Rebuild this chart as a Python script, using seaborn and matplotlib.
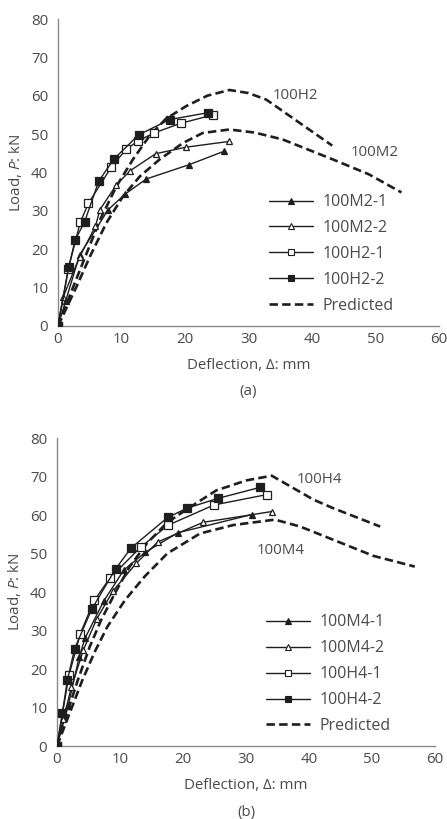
import pandas as pd
import matplotlib
matplotlib.use("Agg")
import matplotlib.pyplot as plt
import seaborn as sns
from matplotlib.lines import Line2D

# --- Panel (a): load-deflection data, 2% series ---
m2_1_x = [0, 1.2, 3.4, 7.9, 10.6, 13.9, 20.6, 26.1]
m2_1_y = [0, 6.5, 18.5, 30.3, 34.4, 38.3, 42.0, 45.5]
m2_2_x = [0, 0.8, 3.4, 5.9, 6.6, 9.2, 11.4, 15.4, 20.2, 27.0]
m2_2_y = [0, 7.5, 18.0, 26.0, 30.3, 36.8, 40.5, 44.9, 46.6, 48.1]
h2_1_x = [0, 1.6, 3.5, 4.8, 8.4, 10.7, 12.6, 15.1, 19.3, 24.4]
h2_1_y = [0, 14.8, 27.0, 32.0, 41.4, 46.0, 48.2, 50.3, 52.8, 55.0]
h2_2_x = [0, 1.7, 2.7, 4.2, 6.4, 8.8, 12.7, 17.6, 23.7]
h2_2_y = [0, 15.4, 22.4, 27.2, 37.7, 43.5, 49.8, 53.8, 55.6]
pred_h2_x = [0, 2.4, 4.5, 6.6, 9.2, 11.8, 14.4, 17.0, 20.2, 23.5, 27.0, 30.0, 32.8, 38.0, 43.2]
pred_h2_y = [0, 10.2, 18.9, 27.6, 36.4, 43.4, 49.5, 54.0, 57.3, 60.0, 61.5, 60.7, 59.0, 53.0, 47.0]
pred_m2_x = [0, 2.9, 5.0, 7.6, 10.2, 12.9, 16.0, 19.7, 22.8, 27.0, 31.0, 35.4, 43.3, 49.0, 54.1]
pred_m2_y = [0, 10.2, 18.0, 26.8, 33.7, 39.0, 43.4, 47.7, 50.3, 51.2, 50.4, 48.6, 43.4, 39.5, 34.8]

# --- Panel (b): load-deflection data, 4% series ---
m4_1_x = [0, 1.75, 3.5, 4.45, 7.4, 10.6, 14.0, 19.2, 30.9]
m4_1_y = [0, 10.3, 23.0, 28.0, 37.6, 45.7, 50.3, 55.4, 60.1]
m4_2_x = [0, 1.0, 2.3, 4.2, 6.3, 8.9, 12.6, 16.0, 23.2, 34.1]
m4_2_y = [0, 7.0, 15.3, 25.0, 33.0, 40.3, 47.5, 53.0, 58.1, 60.9]
h4_1_x = [0, 1.9, 3.7, 5.9, 8.4, 13.3, 17.7, 24.9, 33.3]
h4_1_y = [0, 18.4, 29.2, 37.8, 43.6, 51.7, 57.4, 62.6, 65.3]
h4_2_x = [0, 0.86, 1.65, 2.8, 5.5, 9.3, 11.8, 17.6, 20.7, 25.5, 32.3]
h4_2_y = [0, 8.7, 17.1, 25.3, 35.5, 46.0, 51.5, 59.4, 61.8, 64.3, 67.2]
pred_h4_x = [0, 1.75, 3.3, 5.2, 7.0, 9.2, 11.5, 14.2, 17.4, 20.6, 25.3, 30.1, 34.1, 40.7, 43.8, 51.3]
pred_h4_y = [0, 9.3, 17.1, 25.8, 32.7, 39.7, 46.5, 52.5, 57.9, 61.5, 66.4, 69.0, 70.2, 64.0, 61.8, 57.0]
pred_m4_x = [0, 2.0, 4.0, 6.0, 8.0, 10.8, 13.9, 17.5, 22.7, 28.0, 34.6, 38.6, 43.8, 50.2, 56.8]
pred_m4_y = [0, 8.5, 17.0, 24.5, 31.0, 37.9, 44.0, 50.0, 55.2, 57.4, 58.8, 57.0, 53.6, 49.4, 46.6]

legend_a = ["100M2-1", "100M2-2", "100H2-1", "100H2-2", "Predicted"]
legend_b = ["100M4-1", "100M4-2", "100H4-1", "100H4-2", "Predicted"]

INK = "#1e1e1e"
TEXT = "#4a4a4a"
SPINE = "#8a8a8a"

sns.set_style("white")
plt.rcParams["font.family"] = ["Open Sans", "DejaVu Sans"]
plt.rcParams["mathtext.fontset"] = "custom"
plt.rcParams["mathtext.rm"] = "Open Sans"
plt.rcParams["mathtext.it"] = "Open Sans:italic"

MARKERS = [("^", INK, 5.0), ("^", "white", 5.0), ("s", "white", 5.2), ("s", INK, 5.6)]
DASH = (0, (3.2, 1.6))
FS = 10.8


def draw_panel(ax, series, preds, labels, notes, tag, leg_anchor):
    for (xs, ys), (mk, face, ms) in zip(series, MARKERS):
        sns.lineplot(x=xs, y=ys, ax=ax, color=INK, lw=1.0, marker=mk, markersize=ms,
                     markerfacecolor=face, markeredgecolor=INK, markeredgewidth=0.9,
                     estimator=None, sort=False, legend=False, zorder=3)
    for xs, ys in preds:
        sns.lineplot(x=xs, y=ys, ax=ax, color=INK, lw=1.9, linestyle=DASH,
                     estimator=None, sort=False, legend=False, zorder=2)
    for txt, (tx, ty) in notes:
        ax.text(tx, ty, txt, ha="center", va="center", fontsize=FS, color=TEXT)

    ax.set_xlim(0, 60)
    ax.set_ylim(0, 80)
    ax.set_xticks(range(0, 61, 10))
    ax.set_yticks(range(0, 81, 10))
    for side in ["top", "right"]:
        ax.spines[side].set_visible(False)
    for side in ["left", "bottom"]:
        ax.spines[side].set_color(SPINE)
        ax.spines[side].set_linewidth(1.0)
    ax.tick_params(axis="x", direction="in", length=4, color=SPINE, labelsize=FS,
                   labelcolor=TEXT, pad=4)
    ax.tick_params(axis="y", direction="out", length=4, color=SPINE, labelsize=FS,
                   labelcolor=TEXT, pad=3)
    ax.set_xlabel("Deflection, \u0394: mm", fontsize=FS, color=TEXT, labelpad=8)
    ax.set_ylabel("Load, $\\it{P}$: kN", fontsize=FS, color=TEXT, labelpad=5)
    ax.text(0.5, -0.215, tag, transform=ax.transAxes, ha="center", va="center",
            fontsize=FS, color=TEXT)

    handles = [Line2D([], [], color=INK, lw=1.0, marker=mk, markersize=ms - 0.8,
                      markerfacecolor=face, markeredgecolor=INK, markeredgewidth=0.8)
               for mk, face, ms in MARKERS]
    handles.append(Line2D([], [], color=INK, lw=1.9, linestyle=DASH))
    leg = ax.legend(handles, labels, loc="center left", bbox_to_anchor=leg_anchor,
                    frameon=False, fontsize=11.5, handlelength=2.8, handletextpad=0.6,
                    labelspacing=0.62, borderaxespad=0)
    for t in leg.get_texts():
        t.set_color(TEXT)


fig = plt.figure(figsize=(4.47, 8.19), dpi=100)
ax_a = fig.add_axes([0.1298, 0.602, 0.852, 0.3748])
ax_b = fig.add_axes([0.1275, 0.0891, 0.8456, 0.3761])

draw_panel(ax_a,
           [(m2_1_x, m2_1_y), (m2_2_x, m2_2_y), (h2_1_x, h2_1_y), (h2_2_x, h2_2_y)],
           [(pred_h2_x, pred_h2_y), (pred_m2_x, pred_m2_y)],
           legend_a, [("100H2", (37.4, 60.1)), ("100M2", (49.9, 45.2))], "(a)",
           (0.536, 0.2345))
draw_panel(ax_b,
           [(m4_1_x, m4_1_y), (m4_2_x, m4_2_y), (h4_1_x, h4_1_y), (h4_2_x, h4_2_y)],
           [(pred_h4_x, pred_h4_y), (pred_m4_x, pred_m4_y)],
           legend_b, [("100H4", (41.6, 69.2)), ("100M4", (35.5, 50.9))], "(b)",
           (0.535, 0.233))

fig.savefig("out.png", dpi=100)
plt.close(fig)
